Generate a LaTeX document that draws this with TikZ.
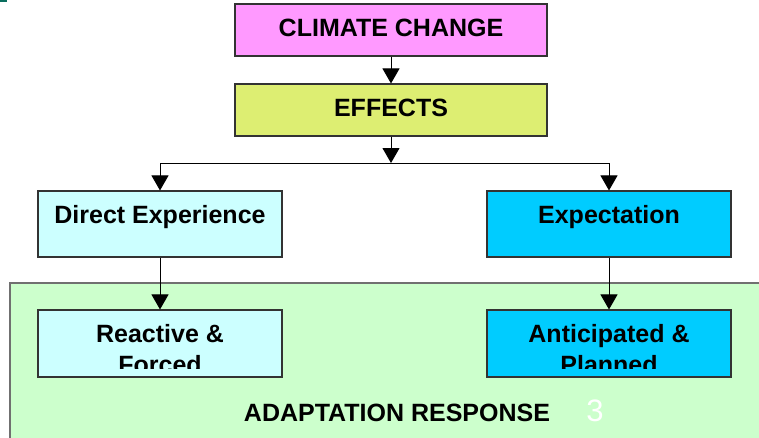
\documentclass[tikz,border=0pt]{standalone}
\usepackage{fontspec}
\setmainfont{Liberation Sans}
\usetikzlibrary{arrows.meta}

\definecolor{climatepink}{HTML}{FF99FF}
\definecolor{effectsgreen}{HTML}{DDEE72}
\definecolor{palecyan}{HTML}{CCFFFF}
\definecolor{skyblue}{HTML}{00CCFF}
\definecolor{adaptgreen}{HTML}{CCFFCC}
\definecolor{edgegray}{HTML}{333333}
\definecolor{framegray}{HTML}{707070}
\definecolor{cornerteal}{HTML}{0A6E5E}

\begin{document}
\begin{tikzpicture}[x=1pt,y=-1pt,
  bigfont/.style={font=\bfseries\fontsize{25}{31}\selectfont},
  flowbox/.style={draw=edgegray, line width=1.1pt, inner sep=0pt,
    bigfont, text height=17.9pt, text depth=4.7pt},
  topbox/.style={flowbox, minimum width=312pt, minimum height=52pt},
  sidebox/.style={flowbox, minimum width=244pt, minimum height=66pt,
    text depth=18.7pt},
  resbox/.style={draw=edgegray, line width=1.1pt, inner sep=0pt,
    minimum width=244pt, minimum height=67pt},
  resline/.style={bigfont, inner sep=0pt, anchor=base},
  conn/.style={draw=black, line width=1pt,
    -{Triangle[width=17pt,length=15pt]}}]

  \useasboundingbox (0,0) rectangle (759,437);
  \clip (0,0) rectangle (759,437);
  \fill[white] (0,0) rectangle (759,437);

  % small mark in the upper left corner
  \fill[cornerteal] (0,0) rectangle (7,2);

  % adaptation area, running off the right and bottom edges
  \draw[draw=framegray, line width=1.4pt, fill=adaptgreen]
    (10,283) rectangle (775,450);
  \node[bigfont, inner sep=0pt] (adapt) at (397,413) {ADAPTATION RESPONSE};
  \node[font=\fontsize{31}{31}\selectfont, text=white, inner sep=0pt]
    (pagenum) at (595,411) {3};

  % upper chain
  \node[topbox, fill=climatepink] (climate) at (391,30) {CLIMATE CHANGE};
  \node[topbox, fill=effectsgreen] (effects) at (391,110) {EFFECTS};

  % the two routes
  \node[sidebox, fill=palecyan] (direct) at (160,224) {Direct Experience};
  \node[sidebox, fill=skyblue] (expect) at (609,224) {Expectation};

  % responses
  \node[resbox, fill=palecyan] (reactive) at (160,343.5) {};
  \node[resbox, fill=skyblue] (anticip) at (609,343.5) {};
  \begin{scope}
    \clip (38,311) rectangle (282,368.5);
    \node[resline] (reactiveA) at (160,342) {Reactive \&};
    \node[resline] (reactiveB) at (160,373) {Forced};
  \end{scope}
  \begin{scope}
    \clip (487,311) rectangle (731,368.5);
    \node[resline] (anticipA) at (609,342) {Anticipated \&};
    \node[resline] (anticipB) at (609,373) {Planned};
  \end{scope}

  % connectors
  \coordinate (split) at (391,163);
  \draw[conn] (climate.south) -- (effects.north);
  \draw[conn] (effects.south) -- (split);
  \draw[conn] (split) -| (direct.north);
  \draw[conn] (split) -| (expect.north);
  \draw[conn] (direct.south) -- (reactive.north);
  \draw[conn] (expect.south) -- (anticip.north);
\end{tikzpicture}
\end{document}
